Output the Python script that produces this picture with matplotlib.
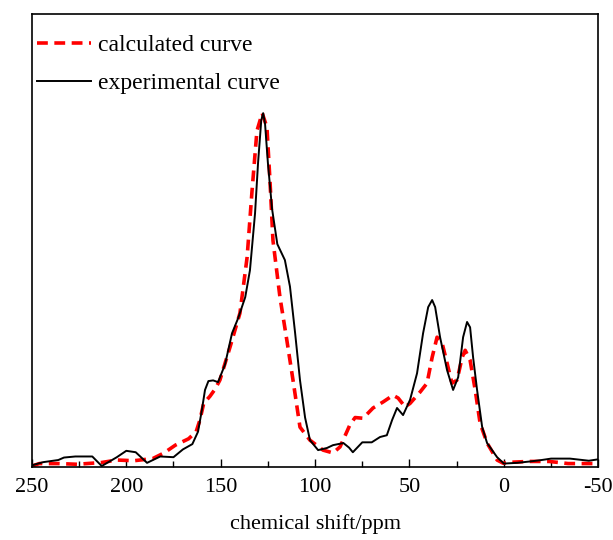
import matplotlib.pyplot as plt

# chemical shift (ppm) and intensity
exp_x = [250, 244, 236, 233, 227, 218, 213, 205, 200, 195, 189, 182, 175, 170, 165,
         162, 160, 158.3, 156.5, 154, 151.4, 147.7, 144, 140.8, 137, 134.5, 131.8,
         130.2, 128.5, 127.5, 126.5, 125, 122.8, 120, 116, 113.3, 110.6, 108, 105.3,
         102.7, 98.4, 93.7, 90.5, 85, 82, 80, 75, 70, 65.6, 62, 59.2, 56.6, 53.4,
         49.7, 46, 42.8, 40.1, 38, 36.4, 33.8, 30.1, 26.9, 24.2, 21.6, 19.5, 17.9,
         16.3, 14.2, 11.5, 8.9, 3.6, 0, -7, -14, -20, -25, -35, -45, -50]
exp_y = [0.005, 0.014, 0.02, 0.027, 0.03, 0.03, 0.003, 0.028, 0.046, 0.042, 0.012,
         0.03, 0.028, 0.05, 0.065, 0.1, 0.16, 0.218, 0.243, 0.245, 0.24, 0.29, 0.378,
         0.42, 0.48, 0.556, 0.717, 0.86, 0.98, 1.0, 0.97, 0.86, 0.73, 0.63, 0.585,
         0.51, 0.38, 0.246, 0.14, 0.076, 0.048, 0.054, 0.062, 0.068, 0.055, 0.042,
         0.07, 0.07, 0.085, 0.09, 0.133, 0.167, 0.147, 0.19, 0.265, 0.378, 0.452,
         0.472, 0.452, 0.367, 0.274, 0.218, 0.254, 0.367, 0.41, 0.395, 0.31, 0.218,
         0.113, 0.068, 0.028, 0.01, 0.012, 0.016, 0.02, 0.024, 0.024, 0.018, 0.022]

calc_x = [250, 246, 236, 226, 213, 205, 196, 186, 180, 174, 167, 163, 161, 159,
          155.7, 153, 150.4, 145, 139.8, 136, 133.4, 130.8, 128, 125.5, 123.9, 122.3,
          118.6, 115, 111.7, 108, 102.7, 95.8, 90.5, 86.8, 84, 81.5, 78.8, 74.6, 69.3,
          64, 58.7, 56, 52.3, 49.7, 44.4, 40.7, 38, 35.4, 32.7, 30.1, 27.5, 24.8,
          22.1, 20.5, 17.9, 15.2, 12.6, 8.9, 3.6, 0.4, -5, -13, -24, -34, -50]
calc_y = [0.003, 0.01, 0.01, 0.008, 0.013, 0.02, 0.018, 0.024, 0.04, 0.062, 0.08,
          0.1, 0.133, 0.18, 0.2, 0.22, 0.246, 0.34, 0.435, 0.593, 0.78, 0.95, 1.0,
          0.96, 0.81, 0.64, 0.48, 0.36, 0.246, 0.113, 0.076, 0.048, 0.04, 0.057, 0.09,
          0.12, 0.14, 0.138, 0.167, 0.184, 0.203, 0.195, 0.17, 0.18, 0.212, 0.237,
          0.31, 0.367, 0.35, 0.294, 0.237, 0.246, 0.31, 0.33, 0.302, 0.218, 0.124,
          0.068, 0.02, 0.011, 0.014, 0.016, 0.016, 0.01, 0.01]

plt.rcParams['font.family'] = 'Liberation Serif'

fig = plt.figure(figsize=(6.13, 5.40), dpi=100)
ax = fig.add_axes([0.052, 0.135, 0.924, 0.839])

ax.plot(calc_x, calc_y, color="#ff0000", linestyle=(0, (3, 1.8)), linewidth=2.6,
        label="calculated curve")
ax.plot(exp_x, exp_y, color="k", linewidth=1.4, label="experimental curve")

ax.set_xlim(250, -50)
ax.set_ylim(0, 1.28)
ax.set_xticks([250, 200, 150, 100, 50, 0, -50])
ax.set_xticklabels(["250", "200", "150", "100", "50", "0", "-50"])
ax.set_xticks([225, 175, 125, 75, 25, -25], minor=True)
ax.set_yticks([])
ax.tick_params(axis="x", which="major", direction="in", length=6, width=1,
               labelsize=16, pad=8)
ax.tick_params(axis="x", which="minor", direction="in", length=4, width=1)
for s in ax.spines.values():
    s.set_linewidth(1.2)

ax.set_xlabel("chemical shift/ppm", fontsize=16, labelpad=12)

ax.legend(loc="upper left", frameon=False, fontsize=17, handlelength=2.3,
          handletextpad=0.3, labelspacing=0.7, borderpad=0.2, borderaxespad=0,
          bbox_to_anchor=(0.0, 0.965))

plt.savefig("out.png", dpi=100)
